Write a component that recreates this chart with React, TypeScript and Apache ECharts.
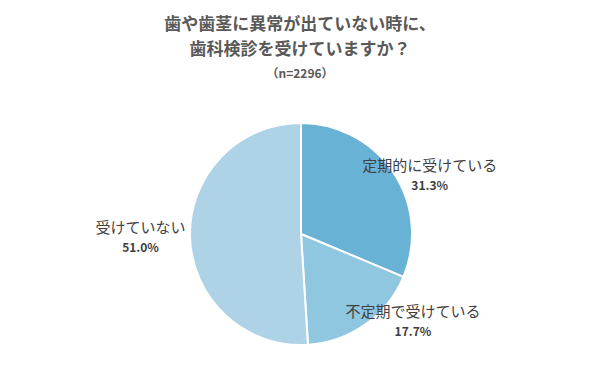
import React, { useEffect, useRef } from "react";
import * as echarts from "echarts";

const titleLines = ["歯や歯茎に異常が出ていない時に、", "歯科検診を受けていますか？"];
const sampleNote = "（n=2296）";
const categories = ["定期的に受けている", "不定期で受けている", "受けていない"];
const values = [31.3, 17.7, 51.0];
const colors = ["#68b2d5", "#8fc6e0", "#aed3e7"];
const labelOffsets = [[80, -28], [78, 38], [-102, 0]];

export default function App() {
  const ref = useRef<HTMLDivElement>(null);
  useEffect(() => {
    document.body.style.margin = "0";
    const chart = echarts.init(ref.current!, null, { renderer: "svg" });
    const font = "'Noto Sans CJK JP', 'Noto Sans', sans-serif";
    const titleStyle = (fontSize: number) => ({
      fontFamily: font,
      fontSize,
      fontWeight: "bold",
      fill: "#595959",
      textAlign: "center",
      textVerticalAlign: "middle",
    });
    chart.setOption({
      animation: false,
      backgroundColor: "#ffffff",
      graphic: [
        { type: "text", x: 300, y: 22, style: { text: titleLines[0], ...titleStyle(17) } },
        { type: "text", x: 300, y: 47, style: { text: titleLines[1], ...titleStyle(17) } },
        { type: "text", x: 300, y: 72, style: { text: sampleNote, ...titleStyle(12) } },
      ],
      series: [
        {
          type: "pie",
          center: [301, 234],
          radius: 111,
          startAngle: 90,
          clockwise: true,
          itemStyle: { borderColor: "#ffffff", borderWidth: 2 },
          emphasis: { disabled: true },
          data: categories.map((name, i) => ({
            name,
            value: values[i],
            itemStyle: { color: colors[i] },
            label: { offset: labelOffsets[i] },
          })),
          label: {
            show: true,
            position: "inside",
            fontFamily: font,
            formatter: (p: any) => `{n|${p.name}}\n{v|${p.value.toFixed(1)}%}`,
            rich: {
              n: { fontFamily: font, fontSize: 15, color: "#404040", lineHeight: 22, align: "center" },
              v: { fontFamily: font, fontSize: 12, fontWeight: "bold", color: "#404040", lineHeight: 18, align: "center" },
            },
          },
          labelLine: { show: false },
        },
      ],
    });
    return () => chart.dispose();
  }, []);
  return <div ref={ref} style={{ width: 600, height: 385 }} />;
}
